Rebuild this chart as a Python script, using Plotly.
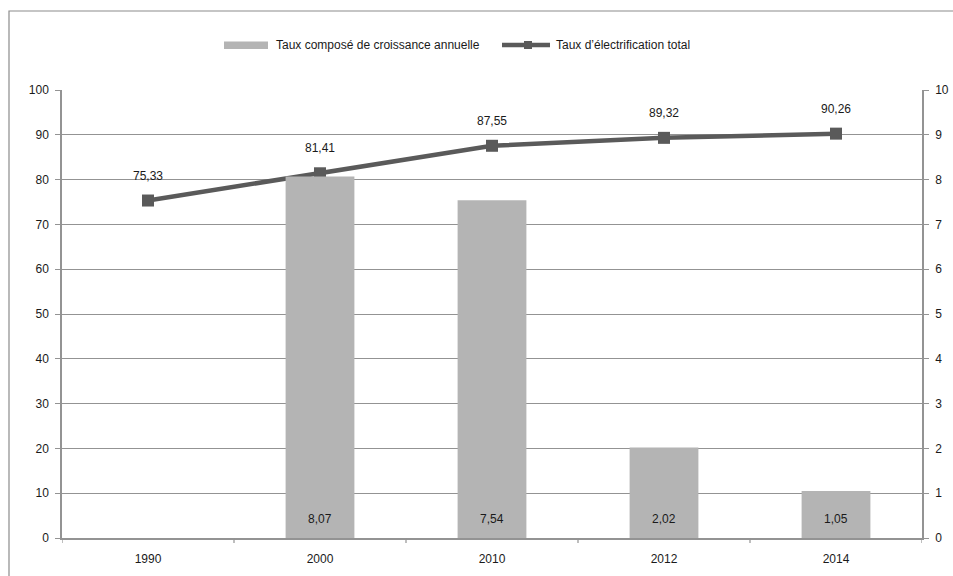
import plotly.graph_objects as go

# Data
years = ["1990", "2000", "2010", "2012", "2014"]
electrification = [75.33, 81.41, 87.55, 89.32, 90.26]          # left axis, %
growth_years = ["2000", "2010", "2012", "2014"]
growth_rate = [8.07, 7.54, 2.02, 1.05]                          # right axis, %

bar_name = "Taux composé de croissance annuelle"
line_name = "Taux d’électrification total"

W, H = 953, 576
L, R, T, B = 62, 31, 90, 38
PW, PH = W - L - R, H - T - B


def px(x):
    return (x - L) / PW


def py(y):
    return (H - B - y) / PH


def fmt(v):
    return f"{v:.2f}".replace(".", ",")


# category slots on a linear axis
pos = {y: i for i, y in enumerate(years)}
line_x = [pos[y] for y in years]
bar_x = [pos[y] for y in growth_years]

BAR_COLOR = "#b4b4b4"
LINE_COLOR = "#5a5a5a"
AXIS_COLOR = "#939393"
TEXT_COLOR = "#1a1a1a"
FONT = "Liberation Sans, Arial, sans-serif"

fig = go.Figure()

fig.add_trace(go.Bar(
    x=bar_x, y=growth_rate, yaxis="y2", name=bar_name,
    marker=dict(color=BAR_COLOR, line=dict(width=0)),
    width=0.4, showlegend=False,
))

fig.add_trace(go.Scatter(
    x=line_x, y=electrification, yaxis="y", name=line_name,
    mode="lines+markers",
    line=dict(color=LINE_COLOR, width=4.5),
    marker=dict(symbol="square", size=12, color=LINE_COLOR),
    showlegend=False, cliponaxis=False,
))

annotations = []
# value labels above the line points
for x, v in zip(line_x, electrification):
    annotations.append(dict(
        x=x, y=v, xref="x", yref="y", text=fmt(v), showarrow=False,
        yshift=25, font=dict(family=FONT, size=12, color=TEXT_COLOR),
    ))
# value labels at the foot of each bar
for x, v in zip(bar_x, growth_rate):
    annotations.append(dict(
        x=x, y=0, xref="x", yref="y2", text=fmt(v), showarrow=False,
        yanchor="middle", yshift=19, font=dict(family=FONT, size=12, color=TEXT_COLOR),
    ))

# Legend drawn by hand: wide swatch for the bars, line with marker for the line
legend_y = 45
annotations.append(dict(x=px(274), y=py(legend_y), xref="paper", yref="paper",
                        xanchor="left", yanchor="middle", text=bar_name,
                        showarrow=False, font=dict(family=FONT, size=12, color=TEXT_COLOR)))
annotations.append(dict(x=px(554), y=py(legend_y), xref="paper", yref="paper",
                        xanchor="left", yanchor="middle", text=line_name,
                        showarrow=False, font=dict(family=FONT, size=12, color=TEXT_COLOR)))

shapes = [
    # outer chart frame
    dict(type="rect", xref="paper", yref="paper",
         x0=px(9), x1=px(W + 10), y0=py(H + 10), y1=py(11),
         line=dict(color="#8c8c8c", width=1.2), fillcolor="rgba(0,0,0,0)", layer="below"),
    # bar legend swatch
    dict(type="rect", xref="paper", yref="paper",
         x0=px(224), x1=px(268), y0=py(49), y1=py(41.5),
         line=dict(width=0), fillcolor=BAR_COLOR),
    # line legend symbol
    dict(type="line", xref="paper", yref="paper",
         x0=px(502), x1=px(550), y0=py(legend_y), y1=py(legend_y),
         line=dict(color=LINE_COLOR, width=4.5)),
    dict(type="rect", xref="paper", yref="paper",
         x0=px(524), x1=px(532), y0=py(legend_y + 4), y1=py(legend_y - 4),
         line=dict(width=0), fillcolor=LINE_COLOR),
]

# tick marks at the boundaries between year slots
boundaries = [i - 0.5 for i in range(len(years) + 1)]
for b in boundaries:
    shapes.append(dict(type="line", xref="x", yref="paper", x0=b, x1=b,
                       y0=0, y1=-5 / PH, line=dict(color=AXIS_COLOR, width=1.2)))

fig.update_layout(
    width=W, height=H,
    margin=dict(l=L, r=R, t=T, b=B, pad=0, autoexpand=False),
    paper_bgcolor="white", plot_bgcolor="white",
    font=dict(family=FONT, size=12, color=TEXT_COLOR),
    showlegend=False,
    xaxis=dict(
        range=[-0.5, len(years) - 0.5], automargin=False,
        tickmode="array", tickvals=line_x, ticktext=years, ticks="",
        showline=True, linecolor=AXIS_COLOR, linewidth=1.5,
        showgrid=False, zeroline=False,
        tickfont=dict(size=12, color=TEXT_COLOR), ticklabelstandoff=9,
    ),
    yaxis=dict(
        range=[0, 100], dtick=10, ticks="outside", ticklen=5, tickcolor=AXIS_COLOR,
        showline=True, linecolor=AXIS_COLOR, linewidth=1.5, automargin=False,
        showgrid=True, gridcolor=AXIS_COLOR, gridwidth=1.3,
        zeroline=False, tickfont=dict(size=12, color=TEXT_COLOR), ticklabelstandoff=4,
    ),
    yaxis2=dict(
        range=[0, 10], dtick=1, overlaying="y", side="right", automargin=False,
        ticks="outside", ticklen=5, tickcolor=AXIS_COLOR,
        showline=True, linecolor=AXIS_COLOR, linewidth=1.5,
        showgrid=False, zeroline=False,
        tickfont=dict(size=12, color=TEXT_COLOR), ticklabelstandoff=4,
    ),
    annotations=annotations,
    shapes=shapes,
)

fig.write_html("out.html")
